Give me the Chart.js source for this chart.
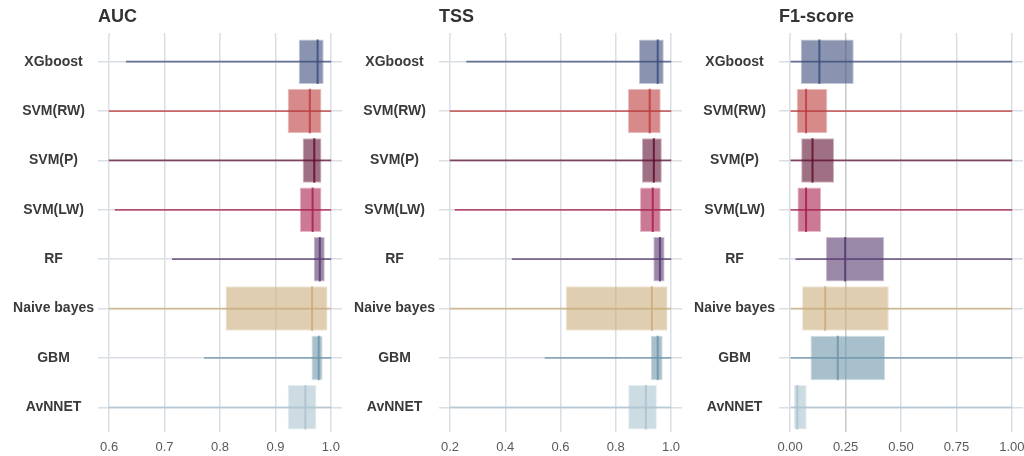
<!DOCTYPE html>
<html>
<head>
<meta charset="utf-8">
<script src="https://cdn.jsdelivr.net/npm/chart.js@4.4.1/dist/chart.umd.min.js"></script>
<style>
  html, body { margin: 0; padding: 0; background: #ffffff; }
  #wrap { position: relative; width: 1024px; height: 456px; overflow: hidden; }
  canvas { position: absolute; top: 0; }
</style>
</head>
<body>
<div id="wrap">
  <canvas id="auc" width="343" height="456" style="left:0px"></canvas>
  <canvas id="tss" width="340" height="456" style="left:343px"></canvas>
  <canvas id="f1" width="341" height="456" style="left:683px"></canvas>
</div>
<script>
// Models, top to bottom
const models = ['XGboost', 'SVM(RW)', 'SVM(P)', 'SVM(LW)', 'RF', 'Naive bayes', 'GBM', 'AvNNET'];
const modelColors = ['#3c4c7c', '#bc3c3c', '#5f0f30', '#a8204e', '#57396e', '#cbad7b', '#6e94aa', '#acc3cf'];

// AUC summary per model: min, first quartile, median, third quartile, max
const aucMin = [0.631, 0.600, 0.600, 0.611, 0.714, 0.600, 0.772, 0.600];
const aucQ1  = [0.942, 0.922, 0.949, 0.944, 0.969, 0.810, 0.965, 0.922];
const aucMed = [0.976, 0.962, 0.970, 0.967, 0.980, 0.966, 0.978, 0.954];
const aucQ3  = [0.987, 0.983, 0.983, 0.983, 0.989, 0.994, 0.985, 0.974];
const aucMax = [1.000, 1.000, 1.000, 1.000, 1.000, 1.000, 1.000, 1.000];
const aucTicks = [0.6, 0.7, 0.8, 0.9, 1.0];
const aucTickLabels = ['0.6', '0.7', '0.8', '0.9', '1.0'];

// TSS summary per model
const tssMin = [0.260, 0.200, 0.200, 0.218, 0.425, 0.200, 0.544, 0.200];
const tssQ1  = [0.884, 0.844, 0.895, 0.888, 0.936, 0.619, 0.927, 0.845];
const tssMed = [0.952, 0.923, 0.938, 0.934, 0.960, 0.931, 0.952, 0.909];
const tssQ3  = [0.974, 0.963, 0.967, 0.963, 0.977, 0.988, 0.970, 0.949];
const tssMax = [1.000, 1.000, 1.000, 1.000, 1.000, 1.000, 1.000, 1.000];
const tssTicks = [0.2, 0.4, 0.6, 0.8, 1.0];
const tssTickLabels = ['0.2', '0.4', '0.6', '0.8', '1.0'];

// F1-score summary per model
const f1Min = [0.000, 0.000, 0.000, 0.000, 0.026, 0.000, 0.000, 0.000];
const f1Q1  = [0.048, 0.030, 0.050, 0.033, 0.161, 0.054, 0.092, 0.017];
const f1Med = [0.132, 0.072, 0.101, 0.072, 0.248, 0.158, 0.215, 0.033];
const f1Q3  = [0.287, 0.168, 0.198, 0.140, 0.424, 0.445, 0.428, 0.075];
const f1Max = [1.000, 1.000, 1.000, 1.000, 1.000, 1.000, 1.000, 1.000];
const f1Ticks = [0.00, 0.25, 0.50, 0.75, 1.00];
const f1TickLabels = ['0.00', '0.25', '0.50', '0.75', '1.00'];

const GRID = '#dadee5';
const FONT = "'Liberation Sans', Arial, Helvetica, sans-serif";
Chart.defaults.font.family = FONT;

function rgba(hex, a) {
  const n = parseInt(hex.slice(1), 16);
  return `rgba(${(n >> 16) & 255},${(n >> 8) & 255},${n & 255},${a})`;
}

function makePanel(id, title, mins, q1, med, q3, maxs, ticks, tickLabels, xMin, xMax, yWidth, darkTick) {
  const panelPlugin = {
    id: 'panelDecor',
    beforeDatasetsDraw(chart) {
      // short extension of the vertical grid above the plotting area
      const { ctx, chartArea } = chart;
      const xs = chart.scales.x;
      ctx.save();
      ctx.lineWidth = 1.5;
      ticks.forEach(v => {
        const px = xs.getPixelForValue(v);
        ctx.strokeStyle = v === darkTick ? '#c8c8c8' : GRID;
        ctx.beginPath();
        ctx.moveTo(px, chartArea.top - 4);
        ctx.lineTo(px, chartArea.top);
        ctx.stroke();
      });
      ctx.restore();
    },
    afterDatasetsDraw(chart) {
      // median strokes across each box
      const { ctx } = chart;
      const xs = chart.scales.x;
      const meta = chart.getDatasetMeta(0);
      ctx.save();
      ctx.lineWidth = 2;
      meta.data.forEach((el, i) => {
        const px = xs.getPixelForValue(med[i]);
        ctx.strokeStyle = rgba(modelColors[i], 0.85);
        ctx.beginPath();
        ctx.moveTo(px, el.y - el.height / 2);
        ctx.lineTo(px, el.y + el.height / 2);
        ctx.stroke();
      });
      ctx.restore();
    },
    afterDraw(chart) {
      const { ctx, chartArea } = chart;
      ctx.save();
      ctx.font = `bold 18px ${FONT}`;
      ctx.fillStyle = '#333333';
      ctx.textAlign = 'left';
      ctx.textBaseline = 'middle';
      ctx.fillText(title, chartArea.left, 17);
      ctx.restore();
    }
  };

  return new Chart(document.getElementById(id), {
    type: 'bar',
    data: {
      labels: models,
      datasets: [
        {
          label: 'IQR',
          data: models.map((m, i) => [q1[i], q3[i]]),
          backgroundColor: modelColors.map(c => rgba(c, 0.6)),
          borderColor: modelColors.map(c => rgba(c, 0.3)),
          borderWidth: 1,
          borderSkipped: false,
          barPercentage: 0.9,
          categoryPercentage: 1,
          grouped: false,
          order: 0
        },
        {
          label: 'Range',
          data: models.map((m, i) => [mins[i], maxs[i]]),
          backgroundColor: modelColors.map(c => rgba(c, 0.75)),
          borderWidth: 0,
          barThickness: 1,
          grouped: false,
          order: 1
        }
      ]
    },
    options: {
      indexAxis: 'y',
      responsive: false,
      animation: false,
      devicePixelRatio: 1,
      layout: { padding: { top: 37, right: 1, bottom: 0, left: 0 } },
      plugins: { legend: { display: false }, tooltip: { enabled: false }, title: { display: false } },
      scales: {
        x: {
          type: 'linear',
          min: xMin,
          max: xMax,
          afterBuildTicks: s => { s.ticks = ticks.map(v => ({ value: v })); },
          afterFit: s => { s.height = 24; s.paddingLeft = 0; s.paddingRight = 0; },
          grid: {
            color: c => (c.tick && c.tick.value === darkTick) ? '#c8c8c8' : GRID,
            lineWidth: 1.5,
            drawTicks: false
          },
          border: { display: false },
          ticks: {
            autoSkip: false,
            maxRotation: 0,
            padding: 8,
            color: '#5a5a5a',
            font: { size: 13 },
            callback: (v, i) => tickLabels[i]
          }
        },
        y: {
          type: 'category',
          offset: true,
          afterFit: s => { s.width = yWidth; },
          grid: { color: GRID, lineWidth: 1.5, drawTicks: false, offset: false },
          border: { display: false },
          ticks: {
            crossAlign: 'center',
            padding: 4,
            color: '#3a3a3a',
            font: { size: 14, weight: 'bold' }
          }
        }
      }
    },
    plugins: [panelPlugin]
  });
}

makePanel('auc', 'AUC', aucMin, aucQ1, aucMed, aucQ3, aucMax, aucTicks, aucTickLabels, 0.58, 1.02, 98, null);
makePanel('tss', 'TSS', tssMin, tssQ1, tssMed, tssQ3, tssMax, tssTicks, tssTickLabels, 0.16, 1.04, 96, null);
makePanel('f1', 'F1-score', f1Min, f1Q1, f1Med, f1Q3, f1Max, f1Ticks, f1TickLabels, -0.05, 1.05, 96, 0.25);
</script>
</body>
</html>
